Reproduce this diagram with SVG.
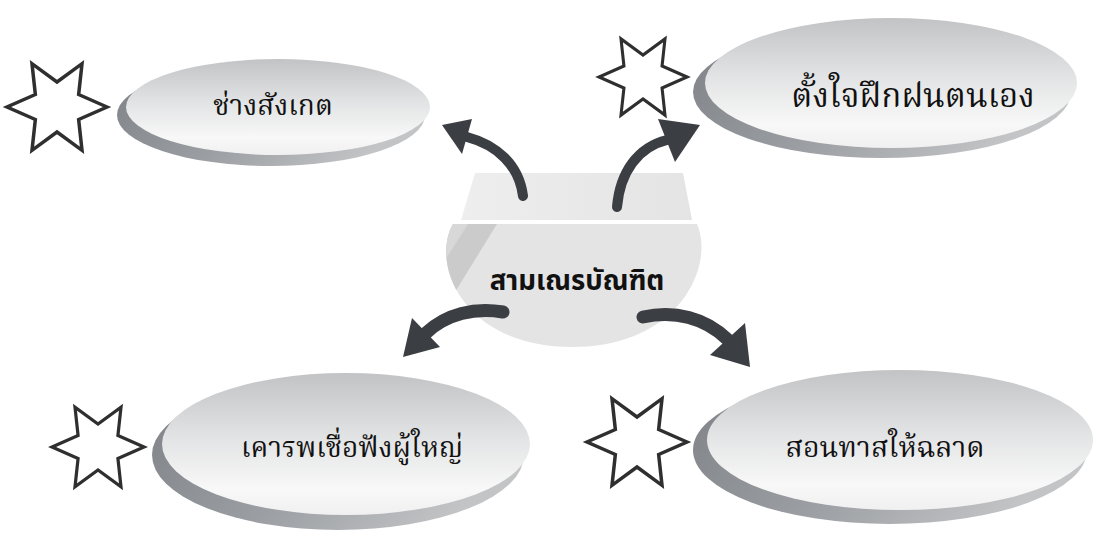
<svg xmlns="http://www.w3.org/2000/svg" xmlns:xlink="http://www.w3.org/1999/xlink" width="1098" height="539" viewBox="0 0 1098 539">
<style>
.face{fill:url(#faceGrad);}
.shadow{fill:url(#shadowGrad);}
.star{fill:#ffffff;stroke:#2f2f2f;stroke-width:3.5;stroke-linejoin:miter;}
.lbl{font-family:"Noto Serif Thai","Noto Sans Thai","Noto Sans","DejaVu Sans",sans-serif;font-size:28px;fill:#111;text-anchor:middle;}
.title{font-family:"Noto Sans Thai","Noto Sans","DejaVu Sans",sans-serif;font-size:27.5px;font-weight:bold;fill:#111;text-anchor:middle;}
.shaft{fill:none;stroke:#3b3e42;stroke-linecap:round;}
.head{fill:#3b3e42;}
</style>
<defs>
<linearGradient id="faceGrad" x1="0" y1="0" x2="0" y2="1">
<stop offset="0" stop-color="#c2c3c5"/>
<stop offset="0.45" stop-color="#e2e3e4"/>
<stop offset="0.82" stop-color="#f8f8f8"/>
<stop offset="1" stop-color="#f0f0f0"/>
</linearGradient>
<linearGradient id="shadowGrad" x1="0" y1="0" x2="1" y2="0.3">
<stop offset="0" stop-color="#7e8186"/>
<stop offset="0.5" stop-color="#9a9da1"/>
<stop offset="1" stop-color="#c2c4c6"/>
</linearGradient>
<linearGradient id="lidGrad" x1="0" y1="0" x2="1" y2="0">
<stop offset="0" stop-color="#eeeeee"/>
<stop offset="1" stop-color="#e4e4e4"/>
</linearGradient>
<clipPath id="bowlClip">
<path d="M453,224 L697,224 C715,265 680,347 572,347 C464,347 430,265 453,224 Z"/>
</clipPath>
<polygon id="star" points="50,0 21.65,-12.5 25,-43.3 0,-25 -25,-43.3 -21.65,-12.5 -50,0 -21.65,12.5 -25,43.3 0,25 25,43.3 21.65,12.5"/>
</defs>
<rect width="1098" height="539" fill="#ffffff"/>

<g id="center">
<polygon points="475,173 683,173 692,220 461,220" fill="url(#lidGrad)"/>
<path d="M453,224 L697,224 C715,265 680,347 572,347 C464,347 430,265 453,224 Z" fill="#e4e4e4"/>
<g clip-path="url(#bowlClip)">
<polygon points="440,224 497,224 447,305 440,305" fill="#cbcbcb"/>
<polygon points="440,224 468,224 440,268" fill="#d8d8d8"/>
</g>
<text class="title" x="577" y="290">สามเณรบัณฑิต</text>
</g>

<g id="node-observe">
<use href="#star" class="star" transform="translate(57,107)"/>
<ellipse class="shadow" cx="271" cy="115" rx="154" ry="51"/>
<ellipse class="face" cx="278" cy="107" rx="152" ry="48"/>
<text class="lbl" x="273" y="115">ช่างสังเกต</text>
</g>

<g id="node-practice">
<use href="#star" class="star" transform="translate(643,77) scale(0.88)"/>
<ellipse class="shadow" cx="882" cy="92" rx="189" ry="66"/>
<ellipse class="face" cx="891" cy="83" rx="186" ry="65"/>
<text class="lbl" x="913" y="107" style="font-size:33px">ตั้งใจฝึกฝนตนเอง</text>
</g>

<g id="node-respect">
<use href="#star" class="star" transform="translate(98,447) scale(0.92)"/>
<ellipse class="shadow" cx="338" cy="455" rx="186" ry="75"/>
<ellipse class="face" cx="346" cy="444" rx="184" ry="71"/>
<text class="lbl" x="352" y="457">เคารพเชื่อฟังผู้ใหญ่</text>
</g>

<g id="node-teach">
<use href="#star" class="star" transform="translate(637,442)"/>
<ellipse class="shadow" cx="890" cy="450" rx="197" ry="74"/>
<ellipse class="face" cx="900" cy="440" rx="193" ry="70"/>
<text class="lbl" x="885" y="457" style="font-size:28.5px">สอนทาสให้ฉลาด</text>
</g>

<g id="connectors">
<path class="shaft" stroke-width="10" d="M523,196 C519,165 497,145 467,137"/>
<polygon class="head" points="442,125 472,119 462,154"/>
<path class="shaft" stroke-width="10" d="M617,207 C620,172 638,147 667,140"/>
<polygon class="head" points="700,125 658,119 675,162"/>
<path class="shaft" stroke-width="13" d="M503,312 C475,307 446,314 426,333"/>
<polygon class="head" points="403,357 412,318 440,347"/>
<path class="shaft" stroke-width="13" d="M643,317 C675,310 705,318 727,339"/>
<polygon class="head" points="750,367 745,323 710,355"/>
</g>
</svg>
